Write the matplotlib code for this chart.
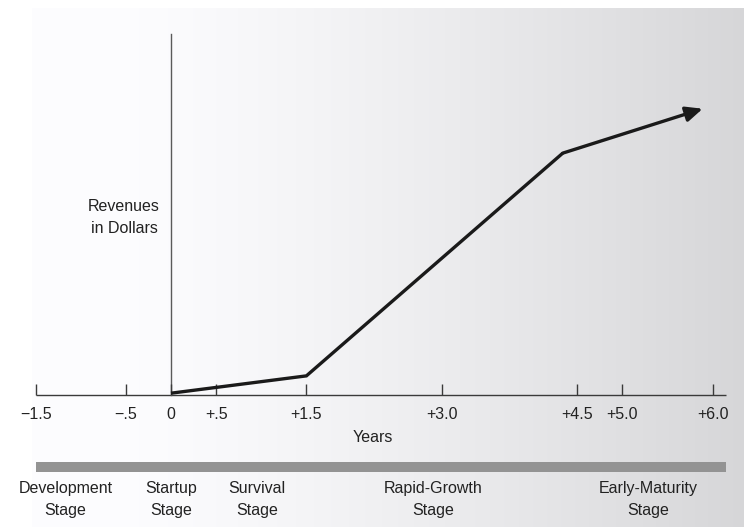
import numpy as np
import matplotlib
matplotlib.use("Agg")
import matplotlib.pyplot as plt
from matplotlib import font_manager

# Years since founding and relative revenue level of the growth curve
years = [0.0, 1.5, 4.34]
revenue = [0.5, 5.3, 67.0]
arrow_end = (5.89, 79.3)

tick_values = [-1.5, -0.5, 0.0, 0.5, 1.5, 3.0, 4.5, 5.0, 6.0]
tick_labels = ["\u22121.5", "\u2212.5", "0", "+.5", "+1.5", "+3.0", "+4.5", "+5.0", "+6.0"]

stage_names = ["Development\nStage", "Startup\nStage", "Survival\nStage",
               "Rapid-Growth\nStage", "Early-Maturity\nStage"]
stage_centers = [-1.17, 0.0, 0.95, 2.9, 5.29]

names = {f.name for f in font_manager.fontManager.ttflist}
family = ["Liberation Sans Narrow"] if "Liberation Sans Narrow" in names else ["Liberation Sans"]
family = family + ["DejaVu Sans"]
plt.rcParams["font.family"] = family

W, H = 744, 527
fig = plt.figure(figsize=(W / 100, H / 100), dpi=100)

# gradient backdrop
bg = fig.add_axes([32 / W, 0, 1 - 32 / W, 1 - 8 / H])
bg.set_axis_off()
u = np.linspace(0, 1, 512)
shade = 0.99 - 0.15 * np.clip((u - 0.12) / 0.88, 0, 1) ** 1.3
grad = np.tile(shade, (2, 1))
rgb = np.dstack([grad, grad, grad + 0.008])
bg.imshow(np.clip(rgb, 0, 1), aspect="auto", extent=[0, 1, 0, 1])

# main drawing axes in data units
px_per_year = 90.27
x0_px = 171
px_per_unit = 3.61
y0_px = 395
ax = fig.add_axes([0, 0, 1, 1])
ax.patch.set_alpha(0)
ax.set_axis_off()
ax.set_xlim((0 - x0_px) / px_per_year, (W - x0_px) / px_per_year)
ax.set_ylim(-(H - y0_px) / px_per_unit, y0_px / px_per_unit)

axis_col = "#3a3a3a"
ax.plot([-1.5, 6.15], [0, 0], color=axis_col, lw=1.0, solid_capstyle="butt")
ax.plot([0, 0], [0, 100], color="#5a5a5a", lw=1.0)
ax.vlines(tick_values, 0, 3.1, color=axis_col, lw=1.0)
for v, lab in zip(tick_values, tick_labels):
    ax.text(v, -3.3, lab, ha="center", va="top", fontsize=11.5, color="#222222")

ax.text(2.24, -9.6, "Years", ha="center", va="top", fontsize=11.5, color="#222222")
ax.text(-0.52, 49.2, "Revenues\nin Dollars", ha="center", va="center",
        fontsize=11.5, color="#222222", linespacing=1.6)

# revenue curve
ax.plot(years, revenue, color="#1a1a1a", lw=2.4, solid_joinstyle="miter",
        solid_capstyle="butt")
ax.annotate("", xy=arrow_end, xytext=(years[-1], revenue[-1]),
            arrowprops=dict(arrowstyle="-|>,head_length=1.0,head_width=0.45",
                            color="#1a1a1a", lw=2.4, shrinkA=0, shrinkB=0))

# stage bar
ax.fill_between([-1.5, 6.15], -18.6, -21.4, color="#939393", lw=0)
for c, s in zip(stage_centers, stage_names):
    ax.text(c, -23.7, s, ha="center", va="top", fontsize=11.5, color="#222222",
            linespacing=1.6)

fig.savefig("out.png", dpi=100)
